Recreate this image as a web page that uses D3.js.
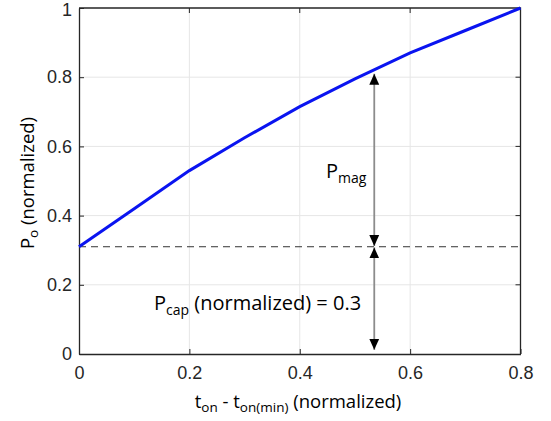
<!DOCTYPE html>
<html>
<head>
<meta charset="utf-8">
<script src="https://cdn.jsdelivr.net/npm/d3@7"></script>
<style>
  body { margin: 0; background: #fff; }
  svg { display: block; }
</style>
</head>
<body>
<div id="chart"></div>
<script>
var xValues = [0, 0.1, 0.2, 0.3, 0.4, 0.5, 0.6, 0.7, 0.8];
var poValues = [0.31, 0.42, 0.53, 0.625, 0.715, 0.795, 0.87, 0.935, 1.0];
var xTicks = [0, 0.2, 0.4, 0.6, 0.8];
var yTicks = [0, 0.2, 0.4, 0.6, 0.8, 1];
var pCap = 0.31;
var arrowX = 0.535;
var arrowTop = 0.815;

function init() {
    var w = 551, h = 421;
    var m = { left: 79, right: 30.5, top: 8, bottom: 67 };

    var svg = d3.select("#chart").append("svg")
        .attr("width", w).attr("height", h);

    var x = d3.scaleLinear().domain([0, 0.8]).range([m.left, w - m.right]);
    var y = d3.scaleLinear().domain([0, 1]).range([h - m.bottom, m.top]);

    var defs = svg.append("defs");
    defs.append("marker")
        .attr("id", "head")
        .attr("viewBox", "0 0 10 10")
        .attr("refX", 10).attr("refY", 5)
        .attr("markerWidth", 11).attr("markerHeight", 11)
        .attr("markerUnits", "userSpaceOnUse")
        .attr("orient", "auto-start-reverse")
        .append("path")
        .attr("d", "M0,0.5 L10,5 L0,9.5 Z")
        .attr("fill", "#000");

    // grid
    svg.append("g").selectAll("line")
        .data(xTicks.slice(1, -1))
        .enter().append("line")
        .attr("x1", function(d) { return x(d); }).attr("x2", function(d) { return x(d); })
        .attr("y1", y(0)).attr("y2", y(1))
        .attr("stroke", "#e6e6e6").attr("stroke-width", 1);
    svg.append("g").selectAll("line")
        .data(yTicks.slice(1, -1))
        .enter().append("line")
        .attr("y1", function(d) { return y(d); }).attr("y2", function(d) { return y(d); })
        .attr("x1", x(0)).attr("x2", x(0.8))
        .attr("stroke", "#e6e6e6").attr("stroke-width", 1);

    // axes
    var xAxis = svg.append("g")
        .attr("transform", "translate(0," + y(0) + ")")
        .call(d3.axisBottom(x).tickValues(xTicks).tickSizeInner(-5).tickSizeOuter(0).tickPadding(12)
            .tickFormat(function(d) { return d === 0 ? "0" : d3.format(".1f")(d); }));
    var yAxis = svg.append("g")
        .attr("transform", "translate(" + x(0) + ",0)")
        .call(d3.axisLeft(y).tickValues(yTicks).tickSizeInner(-5).tickSizeOuter(0).tickPadding(7)
            .tickFormat(function(d) { return (d === 0 || d === 1) ? String(d) : d3.format(".1f")(d); }));
    [xAxis, yAxis].forEach(function(a) {
        a.selectAll("path").attr("stroke", "#262626").attr("stroke-width", 1.3);
        a.selectAll("line").attr("stroke", "#262626");
        a.selectAll("text").attr("fill", "#262626")
            .style("font-family", "'Liberation Sans', Arial, sans-serif").style("font-size", "18px");
    });
    // keep the top "1" label inside the picture
    yAxis.selectAll(".tick").filter(function(d) { return d === 1; })
        .select("text").attr("dy", "0.4em");

    // top & right box
    svg.append("path")
        .attr("d", "M" + x(0) + "," + y(1) + "H" + x(0.8) + "V" + y(0))
        .attr("fill", "none").attr("stroke", "#262626").attr("stroke-width", 1.3);
    // ticks on the right and top edges
    svg.append("g").selectAll("line")
        .data(yTicks.slice(1, -1))
        .enter().append("line")
        .attr("x1", x(0.8)).attr("x2", x(0.8) - 5)
        .attr("y1", function(d) { return y(d); }).attr("y2", function(d) { return y(d); })
        .attr("stroke", "#262626");
    svg.append("g").selectAll("line")
        .data(xTicks.slice(1, -1))
        .enter().append("line")
        .attr("y1", y(1)).attr("y2", y(1) + 5)
        .attr("x1", function(d) { return x(d); }).attr("x2", function(d) { return x(d); })
        .attr("stroke", "#262626");

    // dashed Pcap line
    svg.append("line")
        .attr("x1", x(0)).attr("x2", x(0.8))
        .attr("y1", y(pCap)).attr("y2", y(pCap))
        .attr("stroke", "#333").attr("stroke-width", 1)
        .attr("stroke-dasharray", "7,5");

    // curve
    var line = d3.line()
        .x(function(d, i) { return x(xValues[i]); })
        .y(function(d) { return y(d); });
    svg.append("path")
        .datum(poValues)
        .attr("d", line)
        .attr("fill", "none")
        .attr("stroke", "#0a14f0")
        .attr("stroke-width", 3);

    // arrows
    function arrow(v0, v1) {
        svg.append("line")
            .attr("x1", x(arrowX)).attr("x2", x(arrowX))
            .attr("y1", y(v0)).attr("y2", y(v1))
            .attr("stroke", "#8c8c8c").attr("stroke-width", 1.8)
            .attr("marker-start", "url(#head)")
            .attr("marker-end", "url(#head)");
    }
    arrow(pCap + 0.002, arrowTop - 0.005);
    arrow(0.012, pCap - 0.002);

    var font = "'Open Sans', 'Noto Sans', sans-serif";
    var t1 = svg.append("text")
        .attr("x", 326).attr("y", 178)
        .style("font-family", font).style("font-size", "20px").attr("fill", "#000");
    t1.append("tspan").text("P");
    t1.append("tspan").attr("dy", 5).style("font-size", "14px").text("mag");

    var t2 = svg.append("text")
        .attr("x", 154).attr("y", 310)
        .style("font-family", font).style("font-size", "20px").attr("fill", "#000");
    t2.append("tspan").text("P");
    t2.append("tspan").attr("dy", 5).style("font-size", "14px").text("cap");
    t2.append("tspan").attr("dy", -5).text(" (normalized) = 0.3");

    // x label
    var xl = svg.append("text")
        .attr("x", 298).attr("y", 408)
        .attr("text-anchor", "middle")
        .style("font-family", font).style("font-size", "18.5px").attr("fill", "#000");
    xl.append("tspan").text("t");
    xl.append("tspan").attr("dy", 4).style("font-size", "13.5px").text("on");
    xl.append("tspan").attr("dy", -4).text(" - t");
    xl.append("tspan").attr("dy", 4).style("font-size", "13.5px").text("on(min)");
    xl.append("tspan").attr("dy", -4).text(" (normalized)");

    // y label
    var yl = svg.append("text")
        .attr("transform", "translate(34," + (y(0.5) + 2) + ") rotate(-90)")
        .attr("text-anchor", "middle")
        .style("font-family", font).style("font-size", "18.5px").attr("fill", "#000");
    yl.append("tspan").text("P");
    yl.append("tspan").attr("dy", 4).style("font-size", "13.5px").text("o");
    yl.append("tspan").attr("dy", -4).text(" (normalized)");
}

window.onload = init;
</script>
</body>
</html>
